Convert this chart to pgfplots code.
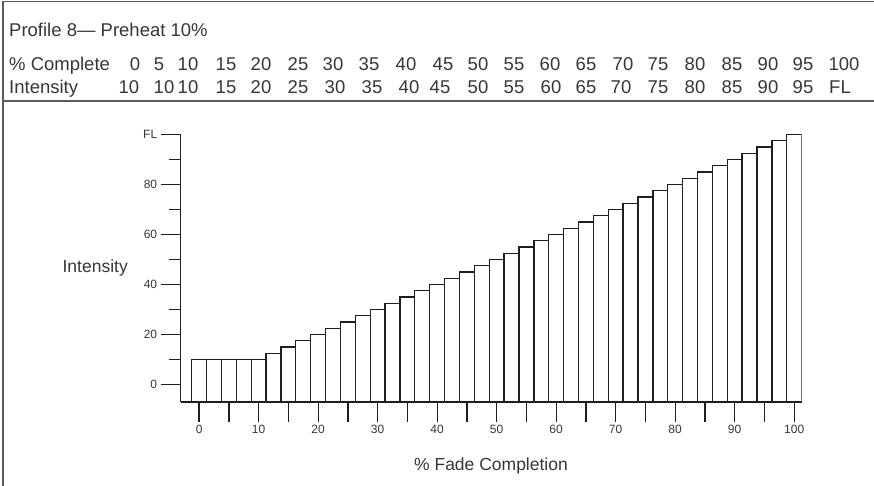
\documentclass[border=0pt]{standalone}
\usepackage{pgfplots}
\pgfplotsset{compat=1.18}
\usepackage{pgfplotstable}
\usepackage{fontspec}
\setmainfont{Liberation Sans}
\definecolor{txt}{RGB}{55,55,55}
\definecolor{ln}{RGB}{30,30,30}
\definecolor{frm}{RGB}{90,90,90}

\pgfplotstableread{
x y
0 10
2.5 10
5 10
7.5 10
10 10
12.5 12.5
15 15
17.5 17.5
20 20
22.5 22.5
25 25
27.5 27.5
30 30
32.5 32.5
35 35
37.5 37.5
40 40
42.5 42.5
45 45
47.5 47.5
50 50
52.5 52.5
55 55
57.5 57.5
60 60
62.5 62.5
65 65
67.5 67.5
70 70
72.5 72.5
75 75
77.5 77.5
80 80
82.5 82.5
85 85
87.5 87.5
90 90
92.5 92.5
95 95
97.5 97.5
100 100
}\profile

\newcommand{\hfs}{\fontsize{18.5}{22}\selectfont}

\begin{document}
\begin{tikzpicture}[x=1pt,y=1pt]
\path[use as bounding box, fill=white] (0,0) rectangle (874,486);
% frame
\draw[frm, line width=1.6pt] (3,0) -- (3,484.5) -- (874,484.5);
\draw[frm, line width=1.4pt] (3,385) -- (874,385);
% header
\node[anchor=base west, text=txt, font=\hfs, inner sep=0] at (9,449) {Profile 8— Preheat 10\%};
\node[anchor=base west, text=txt, font=\hfs, inner sep=0] at (9,415) {\% Complete};
\node[anchor=base west, text=txt, font=\hfs, inner sep=0] at (9,392) {Intensity};
\foreach \xx/\lab in {135/0,159/5,188/10,226/15,261/20,298/25,333/30,369/35,406/40,443/45,478/50,514/55,550/60,586/65,623/70,658/75,695/80,732/85,768/90,803/95,844/100}
  \node[anchor=base, text=txt, font=\hfs, inner sep=0] at (\xx,415) {\lab};
\foreach \xx/\lab in {129/10,164/10,188/10,226/15,261/20,298/25,335/30,372/35,409/40,440/45,478/50,514/55,551/60,586/65,621/70,658/75,695/80,732/85,768/90,803/95,840/FL}
  \node[anchor=base, text=txt, font=\hfs, inner sep=0] at (\xx,392) {\lab};

\begin{axis}[
  at={(180.7pt,84pt)}, anchor=south west,
  scale only axis, width=620.9pt, height=267.5pt,
  xmin=-3.1, xmax=101.25, ymin=0, ymax=107,
  enlargelimits=false,
  axis x line*=bottom, axis y line*=left,
  axis line style={ln, line width=1.3pt},
  tick style={ln, line width=1.3pt},
  tick align=outside,
  major tick length=20pt, minor tick length=12pt,
  xtick={0,5,...,100},
  xticklabels={0,,10,,20,,30,,40,,50,,60,,70,,80,,90,,100},
  ytick={7,27,47,67,87,107},
  yticklabels={0,20,40,60,80,FL},
  minor ytick={17,37,57,77,97},
  /pgf/number format/assume math mode=true,
  ticklabel style={font=\fontsize{12}{14}\selectfont, text=txt},
  ybar, bar width=2.5,
]
\addplot[draw=ln, fill=white, line width=1.3pt, bar shift=0pt] table[x=x, y expr=\thisrow{y}+7] {\profile};
\end{axis}
\node[anchor=east, text=txt, font=\fontsize{17.5}{20}\selectfont, inner sep=0] at (128,218) {Intensity};
\node[anchor=center, text=txt, font=\fontsize{17.5}{20}\selectfont, inner sep=0] at (491,20) {\% Fade Completion};
\end{tikzpicture}
\end{document}
